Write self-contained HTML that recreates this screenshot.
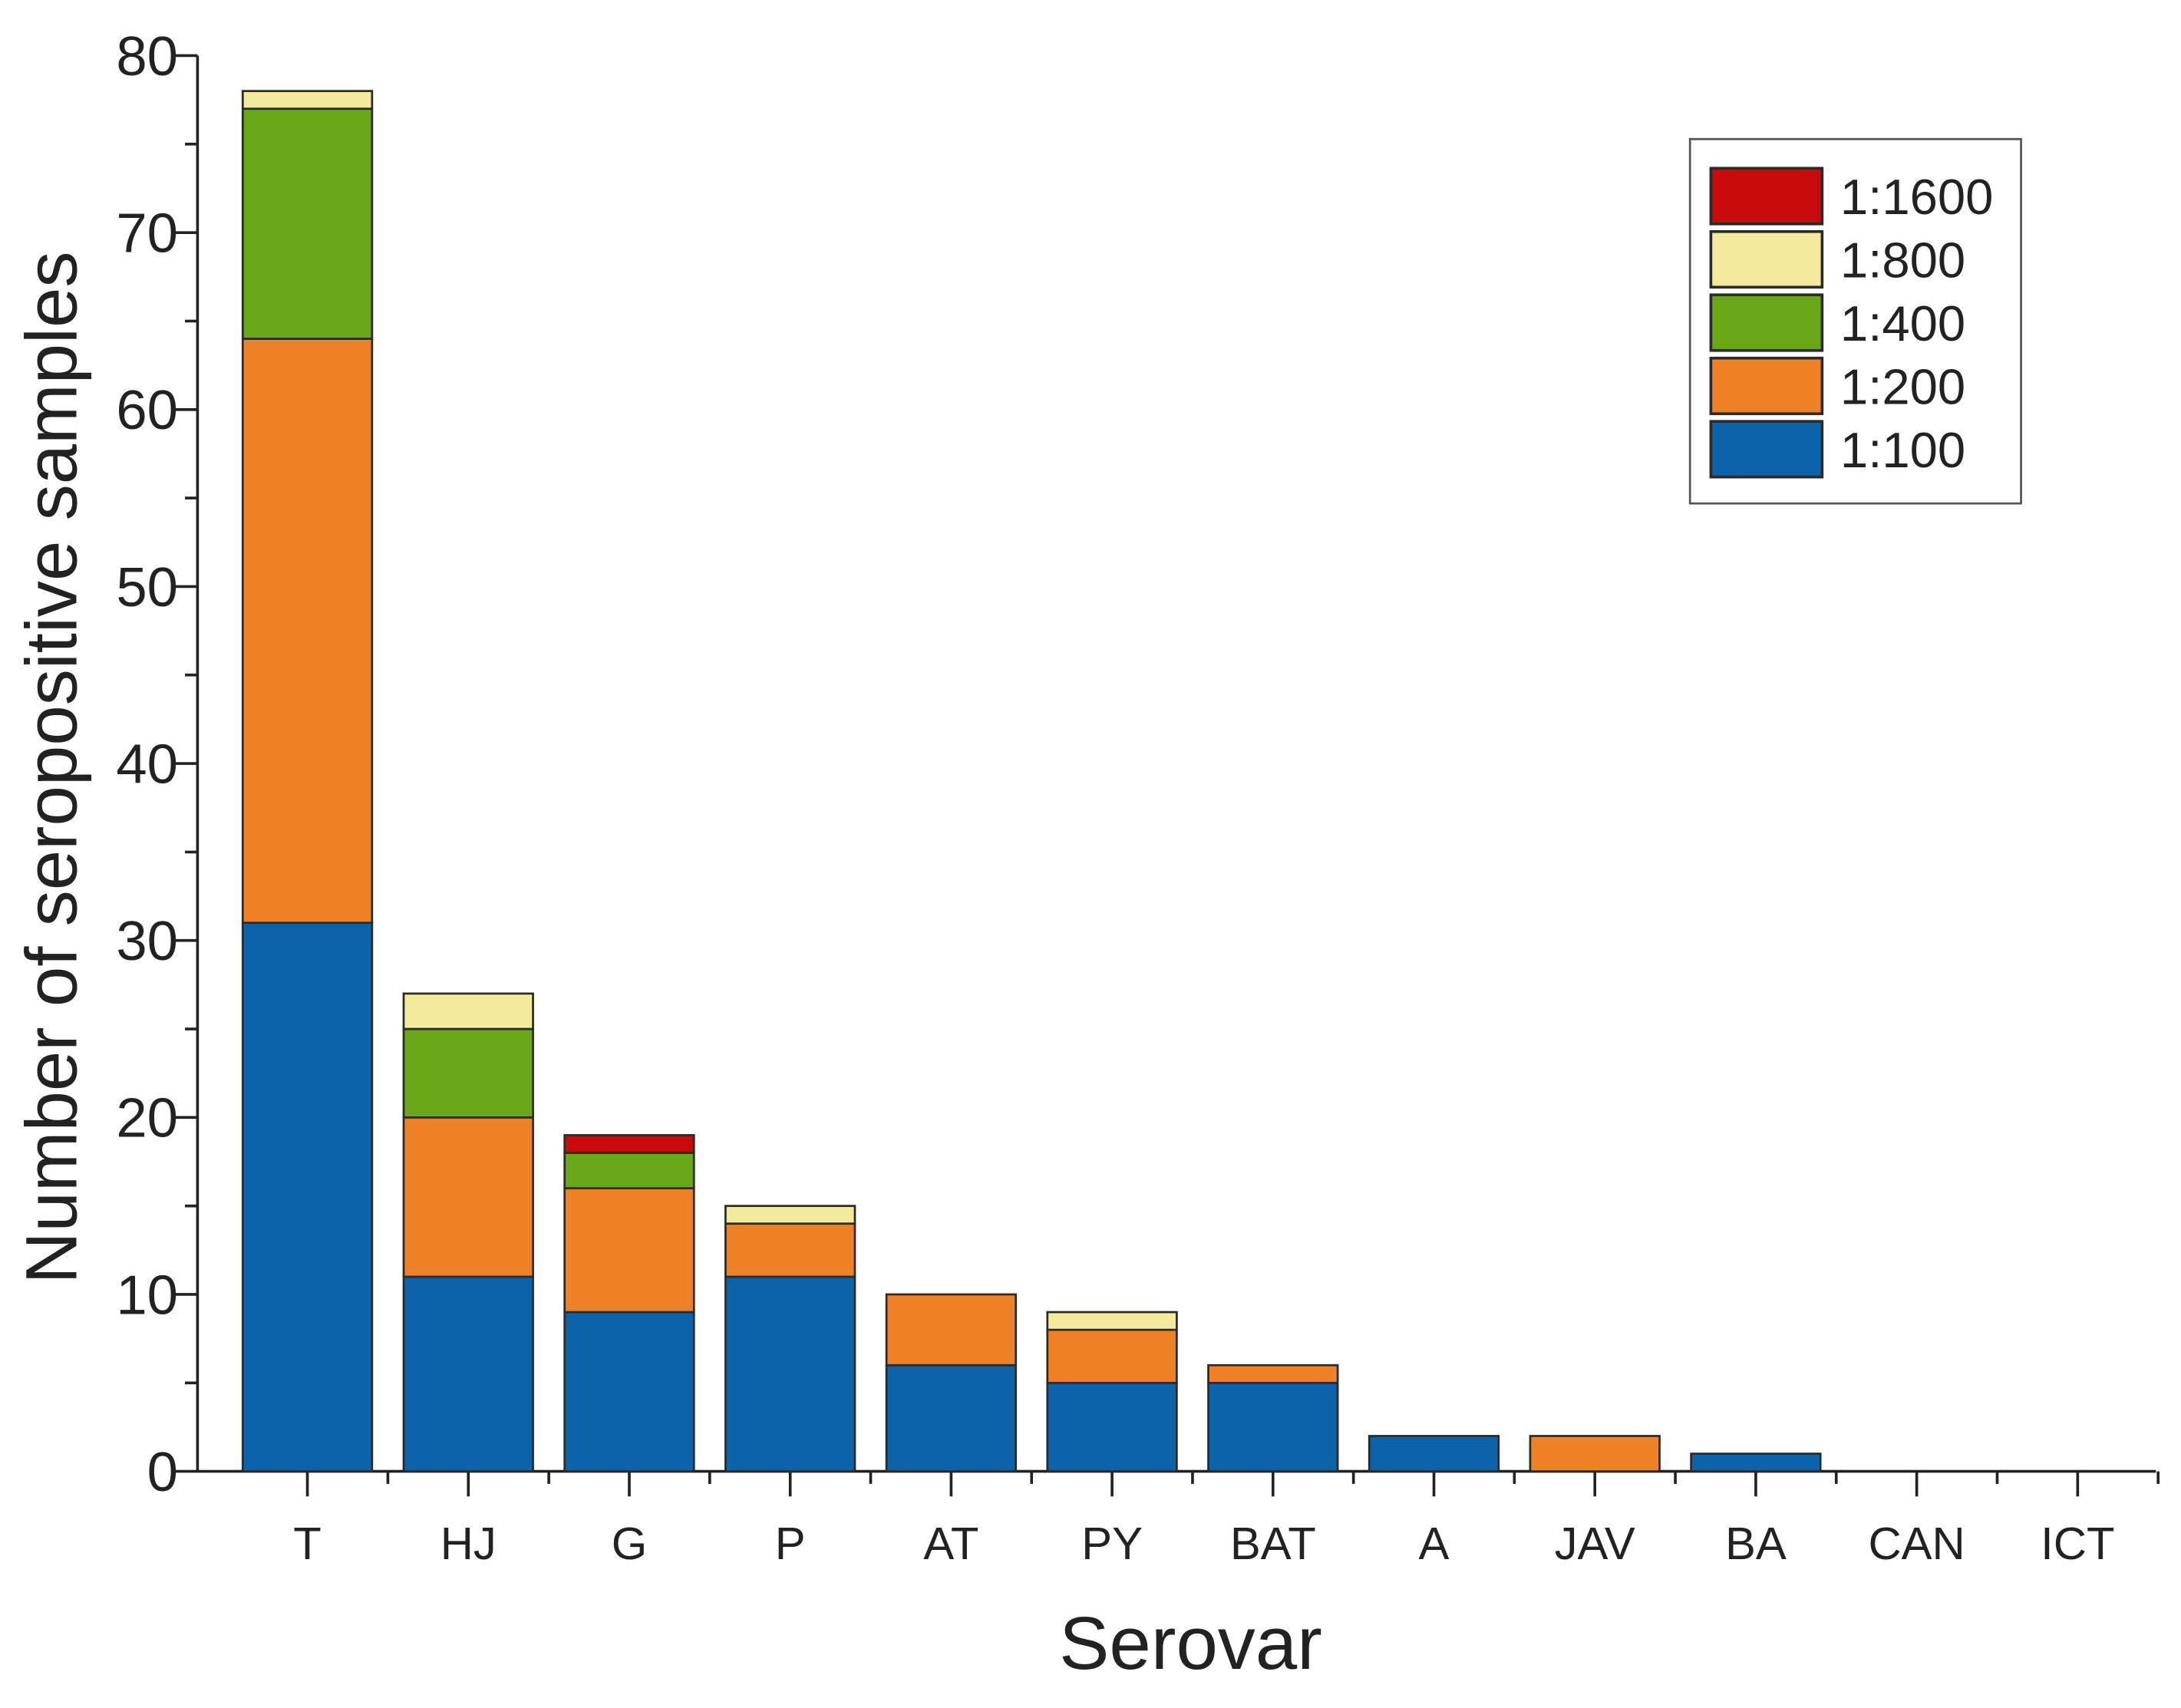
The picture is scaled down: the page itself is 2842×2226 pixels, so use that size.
<!DOCTYPE html>
<html><head><meta charset="utf-8"><style>
html,body{margin:0;padding:0;background:#fff;}
svg{display:block;}
text{font-family:"Liberation Sans",Arial,sans-serif;fill:#222;}
</style></head><body>
<svg id="chart" width="2842" height="2226" viewBox="0 0 1568 1228.14" xmlns="http://www.w3.org/2000/svg">
<g id="axes"></g>
<g id="bars"></g>
<text x="0" y="0" transform="translate(55,552) rotate(-90)" text-anchor="middle" font-size="52">Number of seropositive samples</text>
<text x="856" y="1200" text-anchor="middle" font-size="54">Serovar</text>
<g id="legend"></g>
</svg>
<script>
const categories = ["T","HJ","G","P","AT","PY","BAT","A","JAV","BA","CAN","ICT"];
const s100  = [31,11,9,11,6,5,5,2,0,1,0,0];
const s200  = [33,9,7,3,4,3,1,0,2,0,0,0];
const s400  = [13,5,2,0,0,0,0,0,0,0,0,0];
const s800  = [1,2,0,1,0,1,0,0,0,0,0,0];
const s1600 = [0,0,1,0,0,0,0,0,0,0,0,0];
const seriesNames = ["1:100","1:200","1:400","1:800","1:1600"];
const yTicks = [0,10,20,30,40,50,60,70,80];

const NS="http://www.w3.org/2000/svg";
const series=[s100,s200,s400,s800,s1600];
const colors=["#0b63a9","#ef8227","#69a716","#f2eb9c","#c80a0a"];
const x0=142, x1=1550, yBase=1058, yTop=40, yMax=80;
const step=115.7, firstC=221, barW=93;
function y(v){return yBase-(v/yMax)*(yBase-yTop);}
function xc(i){return firstC+i*step;}
function mk(tag,attrs,parent){const e=document.createElementNS(NS,tag);for(const k in attrs)e.setAttribute(k,attrs[k]);parent.appendChild(e);return e;}

const axes=document.getElementById('axes');
const bars=document.getElementById('bars');
categories.forEach((c,i)=>{
  let acc=0;
  series.forEach((s,k)=>{
    const v=s[i]; if(!v) return;
    const r=mk('rect',{x:xc(i)-barW/2,y:y(acc+v),width:barW,height:y(acc)-y(acc+v),fill:colors[k],stroke:"#2a2a2a","stroke-width":1.5},bars);
    
    
    acc+=v;
  });
});
let l=mk('line',{x1:x0,y1:yTop,x2:x0,y2:yBase,stroke:"#222","stroke-width":2},axes);


yTicks.forEach(t=>{
  const tk=mk('line',{x1:x0-18,y1:y(t),x2:x0,y2:y(t),stroke:"#222","stroke-width":2},axes);
  
  
  const tx=mk('text',{x:x0-14,y:y(t)+14,"text-anchor":"end","font-size":40},axes);
  tx.textContent=t;
  
  
  if(t<yMax){
    const m=mk('line',{x1:x0-9,y1:y(t+5),x2:x0,y2:y(t+5),stroke:"#222","stroke-width":2},axes);
    
    
  }
});
l=mk('line',{x1:x0,y1:yBase,x2:x1,y2:yBase,stroke:"#222","stroke-width":2},axes);


categories.forEach((c,i)=>{
  const tk=mk('line',{x1:xc(i),y1:yBase,x2:xc(i),y2:yBase+18,stroke:"#222","stroke-width":2},axes);
  
  
  const m=mk('line',{x1:xc(i)+step/2,y1:yBase,x2:xc(i)+step/2,y2:yBase+9,stroke:"#222","stroke-width":2},axes);
  
  
  const tx=mk('text',{x:xc(i),y:1121,"text-anchor":"middle","font-size":33},axes);
  tx.textContent=c;
  
  
});
const lg=document.getElementById('legend');
const box=mk('rect',{x:1215,y:100,width:238,height:262,fill:"#fff",stroke:"#555","stroke-width":1.5},lg);


const order=[4,3,2,1,0];
order.forEach((k,j)=>{
  const cy=141+j*45.5;
  const sw=mk('rect',{x:1230,y:cy-20,width:80,height:40,fill:colors[k],stroke:"#2a2a2a","stroke-width":2},lg);
  
  
  const tx=mk('text',{x:1323,y:cy+13,"font-size":36},lg);
  tx.textContent=seriesNames[k];
  
  
});
</script>
</body></html>
